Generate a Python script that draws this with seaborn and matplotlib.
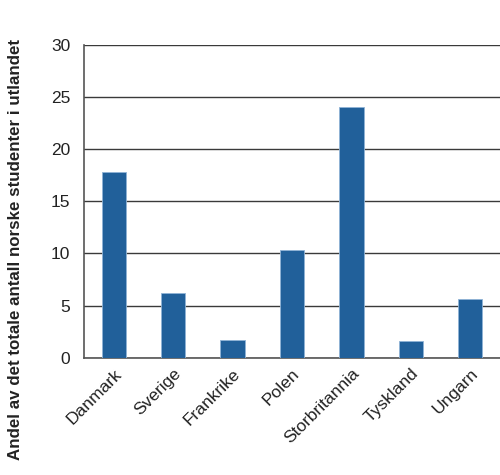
import matplotlib
matplotlib.use("Agg")
import matplotlib.pyplot as plt
import seaborn as sns
import pandas as pd

# data
land = ["Danmark", "Sverige", "Frankrike", "Polen", "Storbritannia", "Tyskland", "Ungarn"]
andel = [17.8, 6.2, 1.7, 10.3, 24.0, 1.6, 5.6]

df = pd.DataFrame({"land": land, "andel": andel})

sns.set_style("white")
plt.rcParams["font.family"] = ["Liberation Sans", "DejaVu Sans"]

fig = plt.figure(figsize=(5, 4.75), dpi=100)
ax = fig.add_axes([0.168, 0.247, 0.832, 0.659])

sns.barplot(data=df, x="land", y="andel", color="#21609a", width=0.41,
            edgecolor="#8fb3d6", linewidth=0.6, saturation=1, ax=ax, zorder=3)

ax.set_ylim(0, 30)
ax.set_xlim(-0.5, 6.5)
ax.set_yticks(range(0, 31, 5))
ax.yaxis.grid(True, color="#3a3a3a", linewidth=1.0, zorder=0)
ax.set_axisbelow(True)
for s in ["top", "right"]:
    ax.spines[s].set_visible(False)
for s in ["left", "bottom"]:
    ax.spines[s].set_color("#555555")
    ax.spines[s].set_linewidth(1.2)

ax.tick_params(axis="both", length=0, labelsize=12.5, colors="#222222")
ax.tick_params(axis="y", pad=10)
ax.tick_params(axis="x", pad=6)
plt.setp(ax.get_xticklabels(), rotation=45, ha="right", rotation_mode="anchor")
ax.set_xlabel("")
ax.set_ylabel("Andel av det totale antall norske studenter i utlandet",
              fontsize=12.2, fontweight="bold", color="#222222")
ax.yaxis.set_label_coords(-0.146, 0.344)

fig.savefig("out.png", dpi=100)
